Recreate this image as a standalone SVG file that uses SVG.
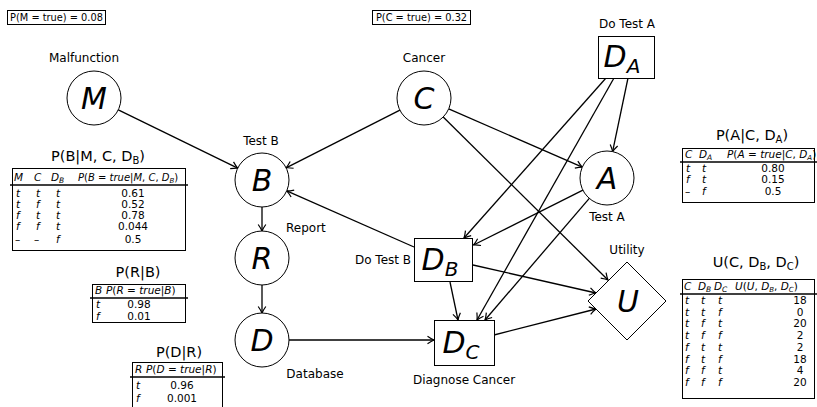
<svg xmlns="http://www.w3.org/2000/svg" width="817" height="407" viewBox="0 0 817 407">
<defs>
<marker id="arr" viewBox="-8 -5 10 10" markerWidth="10" markerHeight="10" refX="0" refY="0" orient="auto" markerUnits="userSpaceOnUse">
<path d="M -6.5 -3.8 Q -2.5 -1 0 0 Q -2.5 1 -6.5 3.8" fill="none" stroke="#000" stroke-width="1.2"/>
</marker>
</defs>
<style>
text{font-family:"DejaVu Sans","Liberation Sans",sans-serif;fill:#000}
.lbl{font-size:12px}
.big{font-size:30px;font-style:italic;text-anchor:middle}
.sub{font-size:20px}
.ttl{font-size:14.5px;text-anchor:middle}
.tt{font-size:10.5px}
.sm{font-size:9.8px}
.it{font-style:italic}
.c{text-anchor:middle}
.node{fill:#fff;stroke:#000;stroke-width:1}
.box{fill:#fff;stroke:#000;stroke-width:1}
.tbl{fill:none;stroke:#000;stroke-width:1}
.edge{fill:none;stroke:#000;stroke-width:1.3;marker-end:url(#arr)}
.rule{stroke:#000;stroke-width:1.3}
</style>
<rect width="817" height="407" fill="#fff"/>

<g id="edges">
<line class="edge" x1="118.3" y1="109.9" x2="237.7" y2="168.1"/>
<line class="edge" x1="399.9" y1="110.2" x2="286.1" y2="167.8"/>
<line class="edge" x1="448.7" y1="108.8" x2="582.3" y2="167.2"/>
<line class="edge" x1="443.2" y1="117" x2="608" y2="280"/>
<line class="edge" x1="628" y1="78" x2="612.6" y2="151.6"/>
<line class="edge" x1="606" y1="78" x2="464" y2="238"/>
<line class="edge" x1="614" y1="78" x2="477" y2="320"/>
<line class="edge" x1="582.9" y1="190.2" x2="473.5" y2="245"/>
<line class="edge" x1="589.3" y1="198.4" x2="485" y2="320"/>
<line class="edge" x1="414" y1="247" x2="286.7" y2="190.9"/>
<line class="edge" x1="450" y1="282" x2="458" y2="320"/>
<line class="edge" x1="473" y1="265" x2="596" y2="293"/>
<line class="edge" x1="494" y1="335" x2="596" y2="309"/>
<line class="edge" x1="289" y1="340" x2="434" y2="340"/>
<line class="edge" x1="262" y1="207" x2="262" y2="231"/>
<line class="edge" x1="262" y1="285" x2="262" y2="313"/>
</g>

<g id="prior-M">
<rect class="box" x="7.5" y="10.5" width="98" height="14"/>
<text class="sm" x="56.5" y="21" text-anchor="middle">P(M = true) = 0.08</text>
</g>
<g id="prior-C">
<rect class="box" x="372.5" y="10.5" width="98" height="14"/>
<text class="sm" x="421.5" y="21" text-anchor="middle">P(C = true) = 0.32</text>
</g>

<g id="node-M">
<circle class="node" cx="94" cy="98" r="27"/>
<text class="big" x="94" y="109">M</text>
<text class="lbl c" x="84" y="62">Malfunction</text>
</g>
<g id="node-C">
<circle class="node" cx="424" cy="98" r="27"/>
<text class="big" x="424" y="109">C</text>
<text class="lbl c" x="424" y="62">Cancer</text>
</g>
<g id="node-DA">
<rect class="box" x="598.5" y="36.5" width="56" height="42"/>
<text class="big" x="622" y="67">D<tspan class="sub" dy="6">A</tspan></text>
<text class="lbl c" x="627" y="28">Do Test A</text>
</g>
<g id="node-B">
<circle class="node" cx="262" cy="180" r="27"/>
<text class="big" x="262" y="191">B</text>
<text class="lbl c" x="261" y="145">Test B</text>
</g>
<g id="node-A">
<circle class="node" cx="607" cy="178" r="27"/>
<text class="big" x="607" y="189">A</text>
<text class="lbl c" x="607" y="221">Test A</text>
</g>
<g id="node-R">
<circle class="node" cx="262" cy="258" r="27"/>
<text class="big" x="262" y="269">R</text>
<text class="lbl" x="286" y="232">Report</text>
</g>
<g id="node-D">
<circle class="node" cx="262" cy="340" r="27"/>
<text class="big" x="262" y="351">D</text>
<text class="lbl c" x="315" y="378">Database</text>
</g>
<g id="node-DB">
<rect class="box" x="414.5" y="238.5" width="58" height="43"/>
<text class="big" x="440" y="270">D<tspan class="sub" dy="6">B</tspan></text>
<text class="lbl c" x="383" y="264">Do Test B</text>
</g>
<g id="node-DC">
<rect class="box" x="434.5" y="320.5" width="60" height="45"/>
<text class="big" x="461" y="353">D<tspan class="sub" dy="6">C</tspan></text>
<text class="lbl c" x="464" y="384">Diagnose Cancer</text>
</g>
<g id="node-U">
<polygon class="node" points="627,262 666,301 627,340 588,301"/>
<text class="big" x="628" y="312">U</text>
<text class="lbl c" x="627" y="254">Utility</text>
</g>

<g id="table-B">
<text class="ttl" x="98" y="161">P(B|M, C, D<tspan font-size="10" dy="3">B</tspan><tspan dy="-3">)</tspan></text>
<rect class="tbl" x="12.5" y="168.5" width="173" height="82"/>
<line class="rule" x1="10" y1="185" x2="188" y2="185"/>
<g class="tt">
<text class="it" x="14" y="181">M</text><text class="it" x="34" y="181">C</text><text class="it" x="51" y="181">D<tspan font-size="7.5" dy="2">B</tspan></text>
<text x="78" y="181" font-size="10"><tspan class="it">P</tspan>(<tspan class="it">B</tspan> = <tspan class="it">true</tspan>|<tspan class="it">M</tspan>, <tspan class="it">C</tspan>, <tspan class="it">D</tspan><tspan class="it" font-size="7" dy="2">B</tspan><tspan dy="-2">)</tspan></text>
<text class="it" x="16" y="197">t</text><text class="it" x="36" y="197">t</text><text class="it" x="56" y="197">t</text><text class="c" x="133" y="197">0.61</text>
<text class="it" x="16" y="208">t</text><text class="it" x="36" y="208">f</text><text class="it" x="56" y="208">t</text><text class="c" x="133" y="208">0.52</text>
<text class="it" x="16" y="219">f</text><text class="it" x="36" y="219">t</text><text class="it" x="56" y="219">t</text><text class="c" x="133" y="219">0.78</text>
<text class="it" x="16" y="230">f</text><text class="it" x="36" y="230">f</text><text class="it" x="56" y="230">t</text><text class="c" x="133" y="230">0.044</text>
<text x="15" y="243">–</text><text x="34" y="243">–</text><text class="it" x="56" y="243">f</text><text class="c" x="133" y="243">0.5</text>
</g>
</g>

<g id="table-R">
<text class="ttl" x="138" y="277">P(R|B)</text>
<rect class="tbl" x="92.5" y="284.5" width="93" height="38"/>
<line class="rule" x1="90" y1="298" x2="188" y2="298"/>
<g class="tt">
<text class="it" x="95" y="294">B</text>
<text x="106" y="294"><tspan class="it">P</tspan>(<tspan class="it">R</tspan> = <tspan class="it">true</tspan>|<tspan class="it">B</tspan>)</text>
<text class="it" x="96" y="307.5">t</text><text class="c" x="139" y="307.5">0.98</text>
<text class="it" x="96" y="319.5">f</text><text class="c" x="139" y="319.5">0.01</text>
</g>
</g>

<g id="table-D">
<text class="ttl" x="179" y="357">P(D|R)</text>
<rect class="tbl" x="132.5" y="362.5" width="90" height="50"/>
<line class="rule" x1="130" y1="377" x2="225" y2="377"/>
<g class="tt">
<text class="it" x="135" y="373">R</text>
<text x="146" y="373"><tspan class="it">P</tspan>(<tspan class="it">D</tspan> = <tspan class="it">true</tspan>|<tspan class="it">R</tspan>)</text>
<text class="it" x="136" y="389">t</text><text class="c" x="182" y="389">0.96</text>
<text class="it" x="136" y="402">f</text><text class="c" x="182" y="402">0.001</text>
</g>
</g>

<g id="table-A">
<text class="ttl" x="752" y="140">P(A|C, D<tspan font-size="10" dy="3">A</tspan><tspan dy="-3">)</tspan></text>
<rect class="tbl" x="682.5" y="148.5" width="132" height="54"/>
<line class="rule" x1="680" y1="162" x2="817" y2="162"/>
<g class="tt">
<text class="it" x="685" y="158">C</text><text class="it" x="699" y="158">D<tspan font-size="7.5" dy="2">A</tspan></text>
<text x="727" y="158"><tspan class="it">P</tspan>(<tspan class="it">A</tspan> = <tspan class="it">true</tspan>|<tspan class="it">C</tspan>, <tspan class="it">D</tspan><tspan class="it" font-size="7" dy="2">A</tspan><tspan dy="-2">)</tspan></text>
<text class="it" x="686" y="172">t</text><text class="it" x="702" y="172">t</text><text class="c" x="773" y="172">0.80</text>
<text class="it" x="686" y="183">f</text><text class="it" x="702" y="183">t</text><text class="c" x="773" y="183">0.15</text>
<text x="685" y="195">–</text><text class="it" x="702" y="195">f</text><text class="c" x="773" y="195">0.5</text>
</g>
</g>

<g id="table-U">
<text class="ttl" x="756" y="267">U(C, D<tspan font-size="10" dy="3">B</tspan><tspan dy="-3">, D</tspan><tspan font-size="10" dy="3">C</tspan><tspan dy="-3">)</tspan></text>
<rect class="tbl" x="682.5" y="279.5" width="132" height="119"/>
<line class="rule" x1="680" y1="294" x2="817" y2="294"/>
<g class="tt">
<text class="it" x="684" y="290">C</text><text class="it" x="698" y="290">D<tspan font-size="7.5" dy="2">B</tspan></text><text class="it" x="714" y="290">D<tspan font-size="7.5" dy="2">C</tspan></text>
<text x="735" y="290"><tspan class="it">U</tspan>(<tspan class="it">U</tspan>, <tspan class="it">D</tspan><tspan class="it" font-size="7" dy="2">B</tspan><tspan dy="-2">, </tspan><tspan class="it">D</tspan><tspan class="it" font-size="7" dy="2">C</tspan><tspan dy="-2">)</tspan></text>
<text class="it" x="685" y="304">t</text><text class="it" x="701" y="304">t</text><text class="it" x="718" y="304">t</text><text class="c" x="800" y="304">18</text>
<text class="it" x="685" y="315.7">t</text><text class="it" x="701" y="315.7">t</text><text class="it" x="718" y="315.7">f</text><text class="c" x="800" y="315.7">0</text>
<text class="it" x="685" y="327.4">t</text><text class="it" x="701" y="327.4">f</text><text class="it" x="718" y="327.4">t</text><text class="c" x="800" y="327.4">20</text>
<text class="it" x="685" y="339.1">t</text><text class="it" x="701" y="339.1">f</text><text class="it" x="718" y="339.1">f</text><text class="c" x="800" y="339.1">2</text>
<text class="it" x="685" y="350.8">f</text><text class="it" x="701" y="350.8">t</text><text class="it" x="718" y="350.8">t</text><text class="c" x="800" y="350.8">2</text>
<text class="it" x="685" y="362.5">f</text><text class="it" x="701" y="362.5">t</text><text class="it" x="718" y="362.5">f</text><text class="c" x="800" y="362.5">18</text>
<text class="it" x="685" y="374.2">f</text><text class="it" x="701" y="374.2">f</text><text class="it" x="718" y="374.2">t</text><text class="c" x="800" y="374.2">4</text>
<text class="it" x="685" y="385.9">f</text><text class="it" x="701" y="385.9">f</text><text class="it" x="718" y="385.9">f</text><text class="c" x="800" y="385.9">20</text>
</g>
</g>
</svg>
